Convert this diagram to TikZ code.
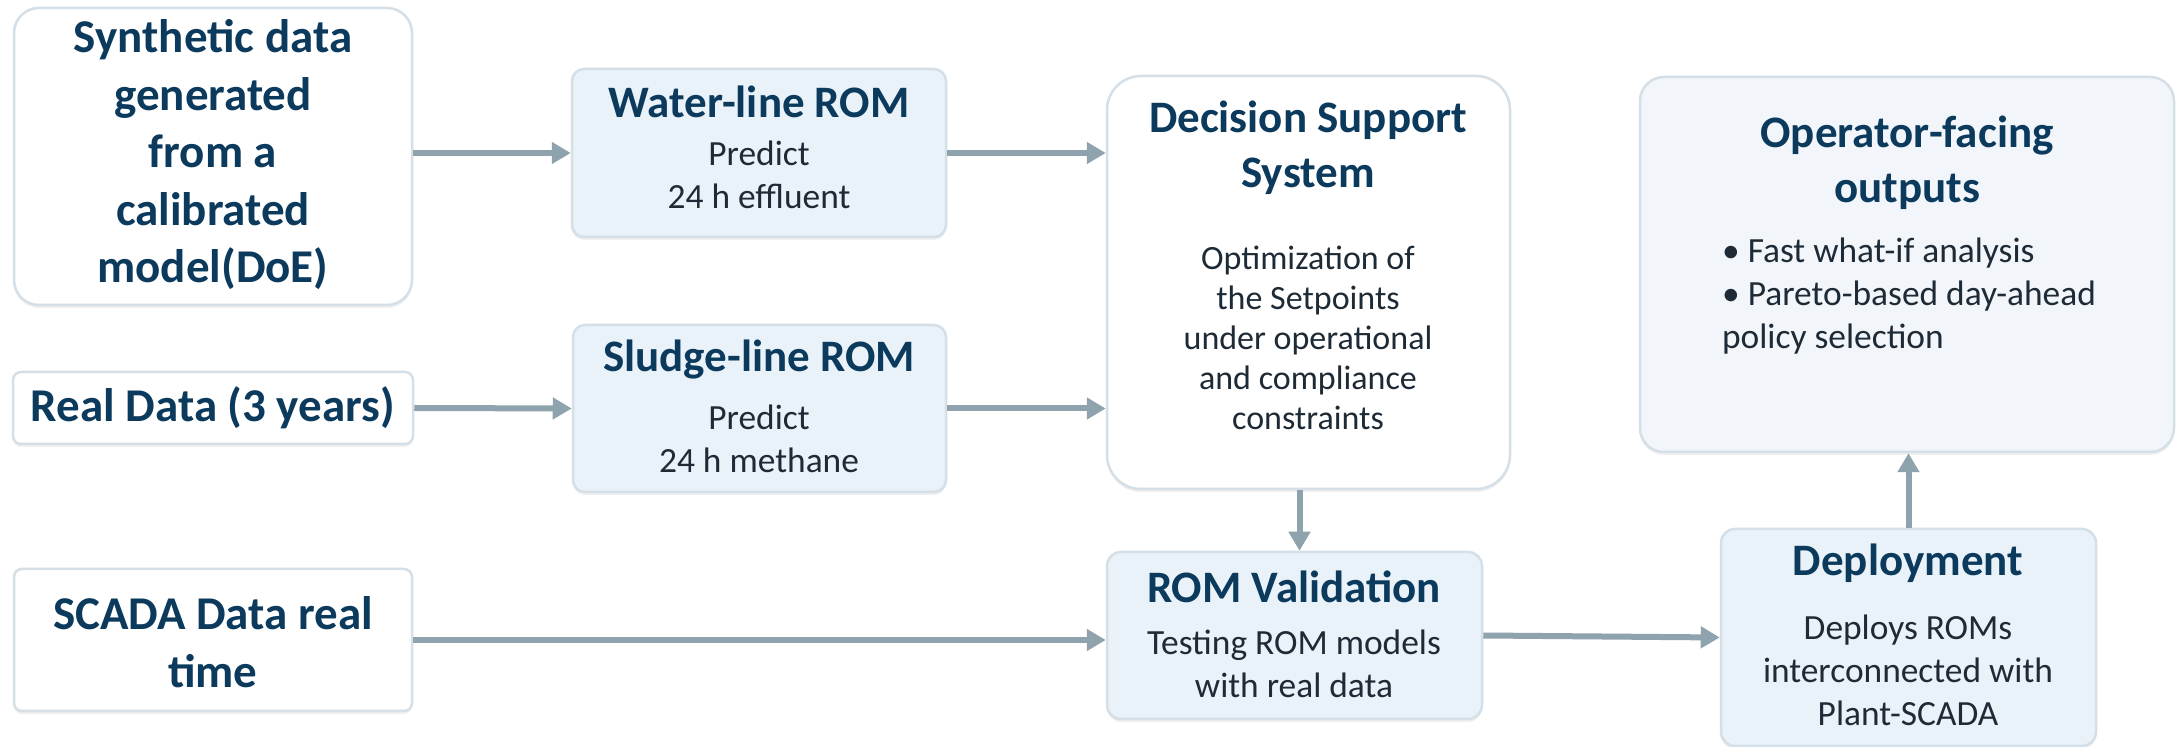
\documentclass[tikz,border=0pt]{standalone}
\usepackage{fontspec}
\setmainfont{Carlito}
\usetikzlibrary{arrows.meta,shadows}
\definecolor{titlec}{HTML}{0B3A5D}
\definecolor{bodyc}{HTML}{1E2A35}
\definecolor{arrowc}{HTML}{8FA3AE}
\definecolor{bordc}{HTML}{D5DFE7}
\definecolor{bluefill}{HTML}{EAF2F9}
\definecolor{opfill}{HTML}{F2F6FB}
\begin{document}
\begin{tikzpicture}[x=0.5pt,y=-0.5pt,
  box/.style={draw=bordc, line width=1.25pt, rounded corners=#1, inner sep=0pt,
    drop shadow={shadow xshift=0pt, shadow yshift=-1.5pt, opacity=0.12}},
  box/.default=6pt,
  titlet/.style={text=titlec, font=\bfseries\fontsize{22.5}{27.5}\selectfont, align=center, inner sep=0pt},
  bigt/.style={text=titlec, font=\bfseries\fontsize{23.5}{28.75}\selectfont, align=center, inner sep=0pt},
  bodyt/.style={text=bodyc, font=\fontsize{17.7}{21.5}\selectfont, align=center, inner sep=0pt},
  arr/.style={draw=arrowc, line width=3pt, -{Triangle[length=9.5pt,width=10.5pt]}}]
\fill[white] (0,0) rectangle (2176,747);
\useasboundingbox (0,0) rectangle (2176,747);

% input boxes
\node[box=12.5pt, fill=white, minimum width=199pt, minimum height=148.5pt] (synth) at (213,156.5) {};
\node[bigt] (synthT) at (213,155) {Synthetic data\\generated\\from a\\calibrated\\model(DoE)};

\node[box=4pt, fill=white, minimum width=200pt, minimum height=36pt] (real) at (213,408) {};
\node[bigt] (realT) at (213,408) {Real Data (3 years)};

\node[box=4pt, fill=white, minimum width=199pt, minimum height=71pt] (scada) at (213,640) {};
\node[bigt] (scadaT) at (213,642) {SCADA Data real\\time};

% ROM boxes
\node[box=6pt, fill=bluefill, minimum width=187pt, minimum height=84pt] (water) at (759,153) {};
\node[titlet] (waterT) at (759,102) {Water-line ROM};
\node[bodyt] (waterB) at (759,175) {Predict\\24 h effluent};

\node[box=6pt, fill=bluefill, minimum width=186.5pt, minimum height=83.5pt] (sludge) at (759.5,408.5) {};
\node[titlet] (sludgeT) at (759,360) {Sludge-line ROM};
\node[bodyt] (sludgeB) at (759,438.5) {Predict\\24 h methane};

% decision support
\node[box=17pt, fill=white, minimum width=201.5pt, minimum height=206.5pt] (dss) at (1308.5,282.5) {};
\node[titlet] (dssT) at (1308,147.5) {Decision Support\\System};
\node[bodyt, font=\fontsize{17}{20}\selectfont] (dssB) at (1308,338) {Optimization of\\the Setpoints\\under operational\\and compliance\\constraints};

% validation
\node[box=7pt, fill=bluefill, minimum width=187.5pt, minimum height=83.5pt] (rv) at (1294.5,635.5) {};
\node[titlet] (rvT) at (1294,587) {ROM Validation};
\node[bodyt] (rvB) at (1294,663.5) {Testing ROM models\\with real data};

% operator outputs
\node[box=12pt, fill=opfill, minimum width=267pt, minimum height=187.5pt] (op) at (1907,264.5) {};
\node[titlet] (opT) at (1907,162.5) {Operator-facing\\outputs};
\node[bodyt, align=left] (opB) at (1909,296.5) {• Fast what-if analysis\\• Pareto-based day-ahead\\policy selection};

% deployment
\node[box=7pt, fill=bluefill, minimum width=187.5pt, minimum height=108.5pt] (dep) at (1908.5,637.5) {};
\node[titlet] (depT) at (1908,563) {Deployment};
\node[bodyt] (depB) at (1908,670) {Deploys ROMs\\interconnected with\\Plant-SCADA};

% connectors
\draw[arr] (synth.east |- water.west) -- (water.west);
\draw[arr] (real.east) -- (sludge.west);
\draw[arr] (water.east) -- (water.east -| dss.west);
\draw[arr] (sludge.east) -- (sludge.east -| dss.west);
\coordinate (dssout) at ([xshift=-4.5pt]dss.south);
\draw[arr] (dssout) -- (dssout |- rv.north);
\draw[arr] (scada.east) -- (scada.east -| rv.west);
\draw[arr] (rv.east) -- (dep.west);
\draw[arr] (dep.north) -- (dep.north |- op.south);
\end{tikzpicture}
\end{document}
